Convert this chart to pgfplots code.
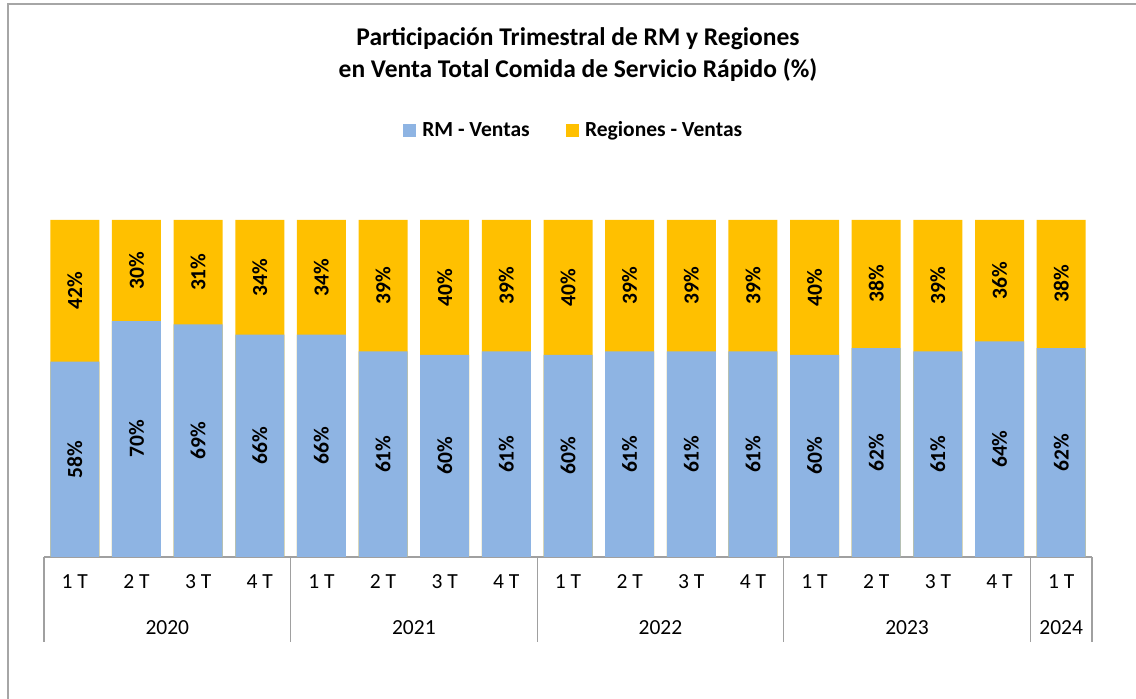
\documentclass[border=0pt]{standalone}
\usepackage{pgfplots}
\usepackage{pgfplotstable}
\pgfplotsset{compat=1.18}
\usepackage{fontspec}
\setmainfont{Carlito}
\definecolor{rmblue}{HTML}{8EB4E3}
\definecolor{regyel}{HTML}{FFC000}
\definecolor{axgray}{HTML}{A0A0A0}
\definecolor{framegray}{HTML}{A6A6A6}
\newcommand{\fs}{\fontsize{21.5}{26}\selectfont}
\newcommand{\fst}{\fontsize{25.5}{32}\selectfont}
\pgfplotstableread{
x rm reg
0 58 42
1 70 30
2 69 31
3 66 34
4 66 34
5 61 39
6 60 40
7 61 39
8 60 40
9 61 39
10 61 39
11 61 39
12 60 40
13 62 38
14 61 39
15 64 36
16 62 38
}\datatable
\begin{document}
\begin{tikzpicture}
\path[use as bounding box] (0pt,0pt) rectangle (1136pt,699pt);
\draw[framegray, line width=1.3pt] (8pt,0pt) -- (8pt,695pt) -- (1136pt,695pt);
\node[anchor=base, font=\fst\bfseries, inner sep=0pt] at (578pt,653pt) {Participación Trimestral de RM y Regiones};
\node[anchor=base, font=\fst\bfseries, inner sep=0pt] at (578pt,621pt) {en Venta Total Comida de Servicio Rápido (\%)};
\begin{axis}[
  at={(44pt,142pt)}, anchor=south west,
  scale only axis, width=1048pt, height=337pt,
  xmin=-0.5, xmax=16.5, ymin=0, ymax=100,
  clip=false,
  axis x line*=bottom, axis y line=none,
  x axis line style={axgray, line width=1.2pt, -},
  xtick={0,...,16},
  xticklabels={1 T,2 T,3 T,4 T,1 T,2 T,3 T,4 T,1 T,2 T,3 T,4 T,1 T,2 T,3 T,4 T,1 T},
  xtick style={draw=none},
  major tick length=0pt,
  xticklabel style={anchor=center, yshift=-25pt, font=\fs, inner sep=0pt},
  legend style={at={(0.5053,1.267)}, anchor=center, draw=none, fill=none,
    legend columns=2, font=\fs\bfseries,
    /tikz/every odd column/.append style={column sep=5pt},
    /tikz/every even column/.append style={column sep=34pt}},
  legend image code/.code={\fill[#1] (0pt,-6pt) rectangle (12pt,6pt);},
  nodes near coords style={anchor=center, rotate=90, font=\fs\bfseries, black},
]
\addlegendimage{rmblue}
\addlegendentry{RM - Ventas}
\addlegendimage{regyel}
\addlegendentry{Regiones - Ventas}
\addplot[ybar, bar width=49pt, fill=regyel, draw=none, forget plot] table[x=x, y expr=\thisrow{rm}+\thisrow{reg}] {\datatable};
\addplot[ybar, bar width=49pt, fill=rmblue, draw=none, forget plot] table[x=x, y=rm] {\datatable};
\addplot[draw=none, mark=none, forget plot, point meta=explicit,
  nodes near coords={\pgfmathprintnumber[assume math mode=true]{\pgfplotspointmeta}\%}]
  table[x=x, y expr=\thisrow{rm}/2, meta=rm] {\datatable};
\addplot[draw=none, mark=none, forget plot, point meta=explicit,
  nodes near coords={\pgfmathprintnumber[assume math mode=true]{\pgfplotspointmeta}\%}]
  table[x=x, y expr=\thisrow{rm}+\thisrow{reg}/2, meta=reg] {\datatable};
\draw[axgray, line width=1.2pt] (axis cs:-0.5,0) -- ++(0pt,-85pt);
\draw[axgray, line width=1.2pt] (axis cs:3.5,0) -- ++(0pt,-85pt);
\draw[axgray, line width=1.2pt] (axis cs:7.5,0) -- ++(0pt,-85pt);
\draw[axgray, line width=1.2pt] (axis cs:11.5,0) -- ++(0pt,-85pt);
\draw[axgray, line width=1.2pt] (axis cs:15.5,0) -- ++(0pt,-85pt);
\draw[axgray, line width=1.2pt] (axis cs:16.5,0) -- ++(0pt,-85pt);
\node[font=\fs, anchor=center] at (axis cs:1.5,0) [yshift=-71pt] {2020};
\node[font=\fs, anchor=center] at (axis cs:5.5,0) [yshift=-71pt] {2021};
\node[font=\fs, anchor=center] at (axis cs:9.5,0) [yshift=-71pt] {2022};
\node[font=\fs, anchor=center] at (axis cs:13.5,0) [yshift=-71pt] {2023};
\node[font=\fs, anchor=center] at (axis cs:16,0) [yshift=-71pt] {2024};
\end{axis}
\end{tikzpicture}
\end{document}
